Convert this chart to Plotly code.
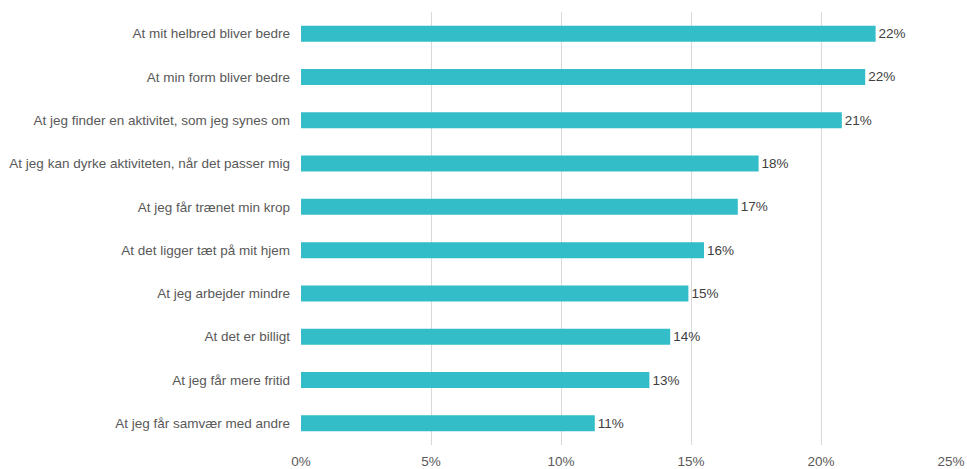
import plotly.graph_objects as go

categories = [
    "At mit helbred bliver bedre",
    "At min form bliver bedre",
    "At jeg finder en aktivitet, som jeg synes om",
    "At jeg kan dyrke aktiviteten, når det passer mig",
    "At jeg får trænet min krop",
    "At det ligger tæt på mit hjem",
    "At jeg arbejder mindre",
    "At det er billigt",
    "At jeg får mere fritid",
    "At jeg får samvær med andre",
]
values = [22.1, 21.7, 20.8, 17.6, 16.8, 15.5, 14.9, 14.2, 13.4, 11.3]
tick_vals = [0, 5, 10, 15, 20, 25]
tick_text = ["0%", "5%", "10%", "15%", "20%", "25%"]

fig = go.Figure(go.Bar(
    y=categories,
    x=values,
    orientation="h",
    marker=dict(color="#33BDC8", line=dict(width=0)),
    width=0.37,
    text=[f"{round(v):.0f}%" for v in values],
    textposition="outside",
    textfont=dict(color="#404040", size=13.5),
    cliponaxis=False,
))

fig.update_layout(
    width=967, height=469,
    margin=dict(l=301, r=16, t=12, b=24),
    plot_bgcolor="white", paper_bgcolor="white",
    font=dict(family="Liberation Sans, Arial, sans-serif", size=13.5, color="#595959"),
    showlegend=False,
    bargap=0.63,
)
fig.update_xaxes(
    range=[0, 25], tickvals=tick_vals, ticktext=tick_text,
    showgrid=True, gridcolor="#d9d9d9", gridwidth=1,
    zeroline=False, showline=False, ticklabelstandoff=6,
    automargin=False,
    tickfont=dict(size=13.5, color="#595959"),
)
fig.update_yaxes(
    categoryorder="array", categoryarray=categories[::-1],
    showgrid=False, zeroline=False, showline=False,
    ticklabelstandoff=10, automargin=False,
    tickfont=dict(size=13.5, color="#595959"),
)

fig.write_html("out.html")
